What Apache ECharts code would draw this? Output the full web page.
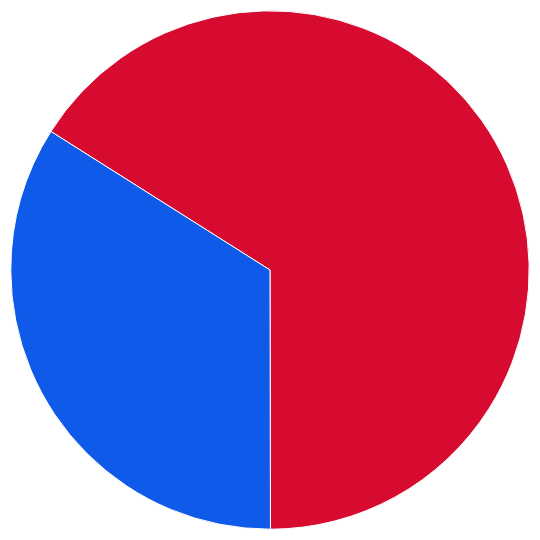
<!DOCTYPE html>
<html>
<head>
<meta charset="utf-8">
<style>html,body{margin:0;padding:0;background:#fff;}#c{width:540px;height:540px;}</style>
<script src="https://cdn.jsdelivr.net/npm/echarts@6/dist/echarts.min.js"></script>
</head>
<body>
<div id="c"></div>
<script>
const categories = ['Red', 'Blue'];
const values = [66, 34];
const colors = ['#d60b2f', '#105ae9'];

const chart = echarts.init(document.getElementById('c'), null, {renderer: 'canvas'});
chart.setOption({
  animation: false,
  series: [{
    type: 'pie',
    center: ['50%', '50%'],
    radius: [0, '96%'],
    startAngle: 147.7,
    clockwise: true,
    label: {show: false},
    labelLine: {show: false},
    itemStyle: {borderColor: '#ffffff', borderWidth: 1},
    data: categories.map((c, i) => ({name: c, value: values[i], itemStyle: {color: colors[i]}}))
  }]
});
</script>
</body>
</html>
